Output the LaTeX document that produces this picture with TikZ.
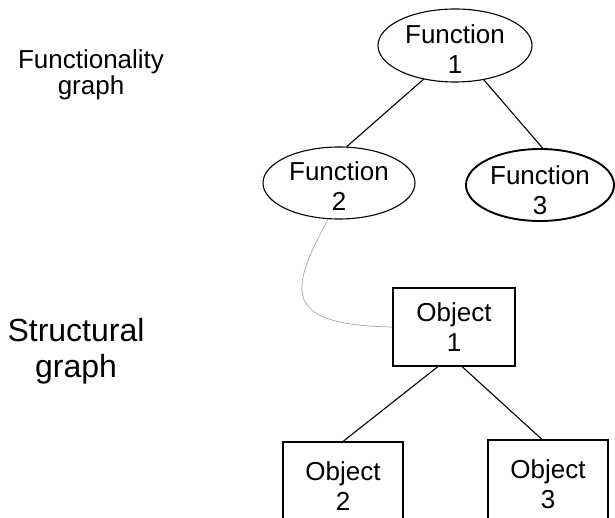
\documentclass[tikz,border=0pt]{standalone}
\usepackage{fontspec}
\setmainfont{Liberation Sans}
\usetikzlibrary{shapes.geometric}
\begin{document}
\begin{tikzpicture}[x=1pt,y=1pt,
  fn/.style={ellipse,draw,line width=1.1pt,inner sep=0pt},
  fntext/.style={align=center,inner sep=0pt,font=\fontsize{26}{30}\selectfont},
  obj/.style={rectangle,draw,line width=1.1pt,inner sep=0pt,align=center,
    font=\fontsize{26}{30}\selectfont},
  edge/.style={line width=1.1pt},
  link/.style={line width=0.7pt,gray!70},
  lbl/.style={align=center,inner sep=0pt}]
\useasboundingbox (0,0) rectangle (615,517);
\clip (0,0) rectangle (615,517);
\fill[white] (0,0) rectangle (615,517);
% labels
\node[lbl,font=\fontsize{26}{26}\selectfont] (lf) at (91,442) {Functionality\\graph};
\node[lbl,font=\fontsize{32}{36}\selectfont] (ls) at (76,166) {Structural\\graph};
% functionality graph
\node[fn,minimum width=154pt,minimum height=73pt,
  label={[fntext,yshift=-4pt]center:{Function\\1}}] (f1) at (455,471.5) {};
\node[fn,minimum width=152pt,minimum height=72pt,
  label={[fntext,yshift=-3pt]center:{Function\\2}}] (f2) at (339,334) {};
\node[fn,line width=1.9pt,minimum width=148pt,minimum height=72pt,
  label={[fntext,yshift=-5pt]center:{Function\\3}}] (f3) at (540,332) {};
% structural graph
\node[obj,minimum width=122pt,minimum height=78pt] (o1) at (454,190) {Object\\1};
\node[obj,minimum width=120pt,minimum height=89pt] (o2) at (343,30.5) {Object\\2};
\node[obj,minimum width=120pt,minimum height=89pt] (o3) at (548,32.5) {Object\\3};
% connectors
\draw[edge] (f1.227) -- (f2.78);
\draw[edge] (f1.310) -- (f3.86);
\draw[edge] ([xshift=-16pt]o1.south) -- (o2.north);
\draw[edge] ([xshift=8pt]o1.south) -- ([xshift=-6pt]o3.north);
\draw[link] (f2.253) .. controls (290,227) and (280,192) .. (o1.west);
\end{tikzpicture}
\end{document}
